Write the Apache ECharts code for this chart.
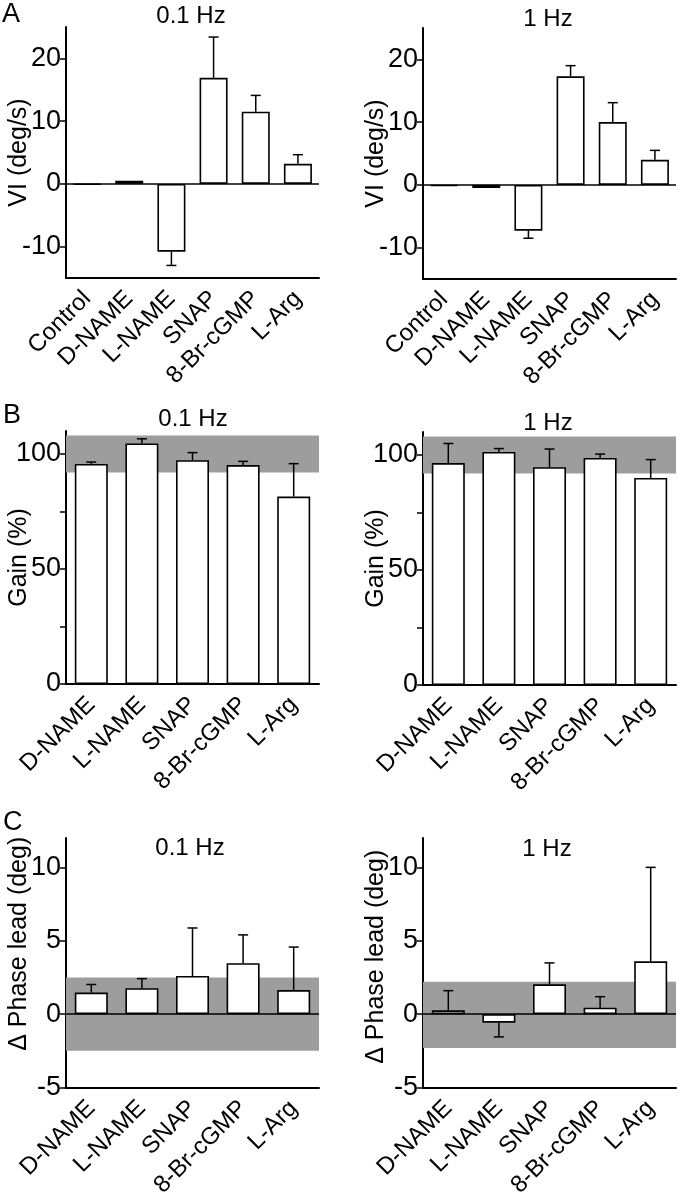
<!DOCTYPE html>
<html><head><meta charset="utf-8">
<script src="https://cdn.jsdelivr.net/npm/echarts@6/dist/echarts.min.js"></script>
<style>html,body{margin:0;padding:0;background:#fff}#c{width:682px;height:1200px}</style>
</head><body><div id="c"></div>
<script>
// ---- data ----
const catsA = ['Control', 'D-NAME', 'L-NAME', 'SNAP', '8-Br-cGMP', 'L-Arg'];
const catsBC = ['D-NAME', 'L-NAME', 'SNAP', '8-Br-cGMP', 'L-Arg'];

const viSlow = [-0.1, 0.5, -10.8, 16.9, 11.5, 3.2];
const viSlowErr = [0, 0, 2.2, 6.5, 2.6, 1.45];
const viFast = [-0.2, -0.5, -7.3, 17.3, 10.0, 4.0];
const viFastErr = [0, 0, 1.2, 1.7, 3.1, 1.5];

const gainSlow = [95.7, 104.6, 97.3, 95.2, 81.5];
const gainSlowErr = [0.8, 2.0, 3.3, 1.6, 14.3];
const gainFast = [96.5, 101.3, 94.7, 98.7, 90.0];
const gainFastErr = [8.5, 1.5, 7.9, 1.7, 8.0];

const phaseSlow = [1.47, 1.77, 2.6, 3.47, 1.64];
const phaseSlowErr = [0.55, 0.65, 3.27, 1.93, 2.93];
const phaseFast = [0.26, -0.58, 2.03, 0.44, 3.6];
const phaseFastErr = [1.34, 0.97, 1.46, 0.75, 6.4];

const gainBand = [92, 108];
const phaseBandSlow = [-2.5, 2.5];
const phaseBandFast = [-2.3, 2.2];

const yTicksA = [-10, 0, 10, 20];
const yTicksB = [0, 25, 50, 75, 100];
const yLabelsB = [0, 50, 100];
const yTicksC = [-5, 0, 5, 10];

// ---- layout ----
const FONT = 'Liberation Sans, Arial, Helvetica, sans-serif';
const panels = [
  {grid: {left: 66, top: 27, width: 253, height: 251}, cats: catsA, vals: viSlow, errs: viSlowErr, min: -15, max: 25, ticks: yTicksA, labels: yTicksA, name: 'VI (deg/s)', band: null, zero: true, barW: 28, namePad: 0},
  {grid: {left: 423, top: 28, width: 253, height: 251}, cats: catsA, vals: viFast, errs: viFastErr, min: -15, max: 25, ticks: yTicksA, labels: yTicksA, name: 'VI (deg/s)', band: null, zero: true, barW: 28, namePad: 0},
  {grid: {left: 66, top: 431, width: 253, height: 253}, cats: catsBC, vals: gainSlow, errs: gainSlowErr, min: 0, max: 110, ticks: yTicksB, labels: yLabelsB, name: 'Gain (%)', band: gainBand, zero: false, barW: 33, namePad: 0},
  {grid: {left: 423, top: 432, width: 253, height: 253}, cats: catsBC, vals: gainFast, errs: gainFastErr, min: 0, max: 110, ticks: yTicksB, labels: yLabelsB, name: 'Gain (%)', band: gainBand, zero: false, barW: 33, namePad: 0},
  {grid: {left: 66, top: 838, width: 253, height: 254}, cats: catsBC, vals: phaseSlow, errs: phaseSlowErr, min: -5, max: 12, ticks: yTicksC, labels: yTicksC, name: '\u0394 Phase lead (deg)', band: phaseBandSlow, zero: true, barW: 33, namePad: 38},
  {grid: {left: 423, top: 838, width: 253, height: 255}, cats: catsBC, vals: phaseFast, errs: phaseFastErr, min: -5, max: 12, ticks: yTicksC, labels: yTicksC, name: '\u0394 Phase lead (deg)', band: phaseBandFast, zero: true, barW: 33, namePad: 12}
];

const grid = [], xAxis = [], yAxis = [], series = [];
panels.forEach((p, i) => {
  grid.push(Object.assign({containLabel: false}, p.grid));
  xAxis.push({
    type: 'category', gridIndex: i, data: p.cats, boundaryGap: true,
    axisLine: {onZero: false, lineStyle: {color: '#000', width: 2}},
    axisTick: {alignWithLabel: true, length: 6, lineStyle: {color: '#000', width: 1.5}},
    axisLabel: {rotate: 45, interval: 0, margin: 17, color: '#000', fontSize: 24, fontFamily: FONT},
    splitLine: {show: false}
  });
  yAxis.push({
    type: 'value', gridIndex: i, min: p.min, max: p.max,
    axisLine: {show: true, lineStyle: {color: '#000', width: 2}},
    axisTick: {show: true, length: 6, customValues: p.ticks, lineStyle: {color: '#000', width: 1.5}},
    axisLabel: {customValues: p.labels, margin: 5, color: '#000', fontSize: 27, fontFamily: FONT},
    splitLine: {show: false},
    name: p.name, nameLocation: 'middle', nameGap: 34, nameMoveOverlap: false,
    nameTextStyle: {color: '#000', fontSize: 25, fontFamily: FONT, padding: [0, 0, 0, p.namePad]}
  });
  if (p.band) {
    series.push({
      type: 'custom', xAxisIndex: i, yAxisIndex: i, z: 1, silent: true,
      data: [[p.band[0], p.band[1]]],
      renderItem: (params, api) => {
        const cs = params.coordSys;
        const yLo = api.coord([0, api.value(0)])[1];
        const yHi = api.coord([0, api.value(1)])[1];
        return {type: 'rect', shape: {x: cs.x, y: yHi, width: cs.width, height: yLo - yHi}, style: {fill: '#9d9d9d'}};
      }
    });
  }
  const bar = {
    type: 'bar', xAxisIndex: i, yAxisIndex: i, z: 3, data: p.vals, barWidth: p.barW,
    itemStyle: {color: '#fff', borderColor: '#000', borderWidth: 1.6}
  };
  if (p.zero) {
    bar.markLine = {silent: true, symbol: 'none', label: {show: false},
      lineStyle: {color: '#000', width: 1.6, type: 'solid'}, data: [{yAxis: 0}]};
  }
  series.push(bar);
  series.push({
    type: 'custom', xAxisIndex: i, yAxisIndex: i, z: 2, silent: true,
    data: p.vals.map((v, k) => [k, v, p.errs[k]]),
    renderItem: (params, api) => {
      const k = api.value(0), v = api.value(1), e = api.value(2);
      if (!e) return null;
      const end = v >= 0 ? v + e : v - e;
      const a = api.coord([k, v]), b = api.coord([k, end]);
      return {type: 'group', children: [
        {type: 'line', shape: {x1: a[0], y1: a[1], x2: b[0], y2: b[1]}, style: {stroke: '#000', lineWidth: 1.5}},
        {type: 'line', shape: {x1: b[0] - 5, y1: b[1], x2: b[0] + 5, y2: b[1]}, style: {stroke: '#000', lineWidth: 1.5}}
      ]};
    }
  });
});

const tStyle = {color: '#000', fontSize: 24, fontWeight: 'normal', fontFamily: FONT};
const lStyle = {color: '#000', fontSize: 27, fontWeight: 'normal', fontFamily: FONT};
const title = [
  {text: 'A', left: 2, top: 1, textStyle: lStyle, padding: 0},
  {text: 'B', left: 3, top: 402, textStyle: lStyle, padding: 0},
  {text: 'C', left: 3, top: 809, textStyle: lStyle, padding: 0},
  {text: '0.1 Hz', left: 191, top: 4, textAlign: 'center', textStyle: tStyle, padding: 0},
  {text: '1 Hz', left: 548, top: 7, textAlign: 'center', textStyle: tStyle, padding: 0},
  {text: '0.1 Hz', left: 193, top: 407, textAlign: 'center', textStyle: tStyle, padding: 0},
  {text: '1 Hz', left: 548, top: 411, textAlign: 'center', textStyle: tStyle, padding: 0},
  {text: '0.1 Hz', left: 190, top: 836, textAlign: 'center', textStyle: tStyle, padding: 0},
  {text: '1 Hz', left: 547, top: 837, textAlign: 'center', textStyle: tStyle, padding: 0}
];

const chart = echarts.init(document.getElementById('c'), null, {renderer: 'canvas'});
chart.setOption({animation: false, backgroundColor: '#fff', title, grid, xAxis, yAxis, series});
</script></body></html>
